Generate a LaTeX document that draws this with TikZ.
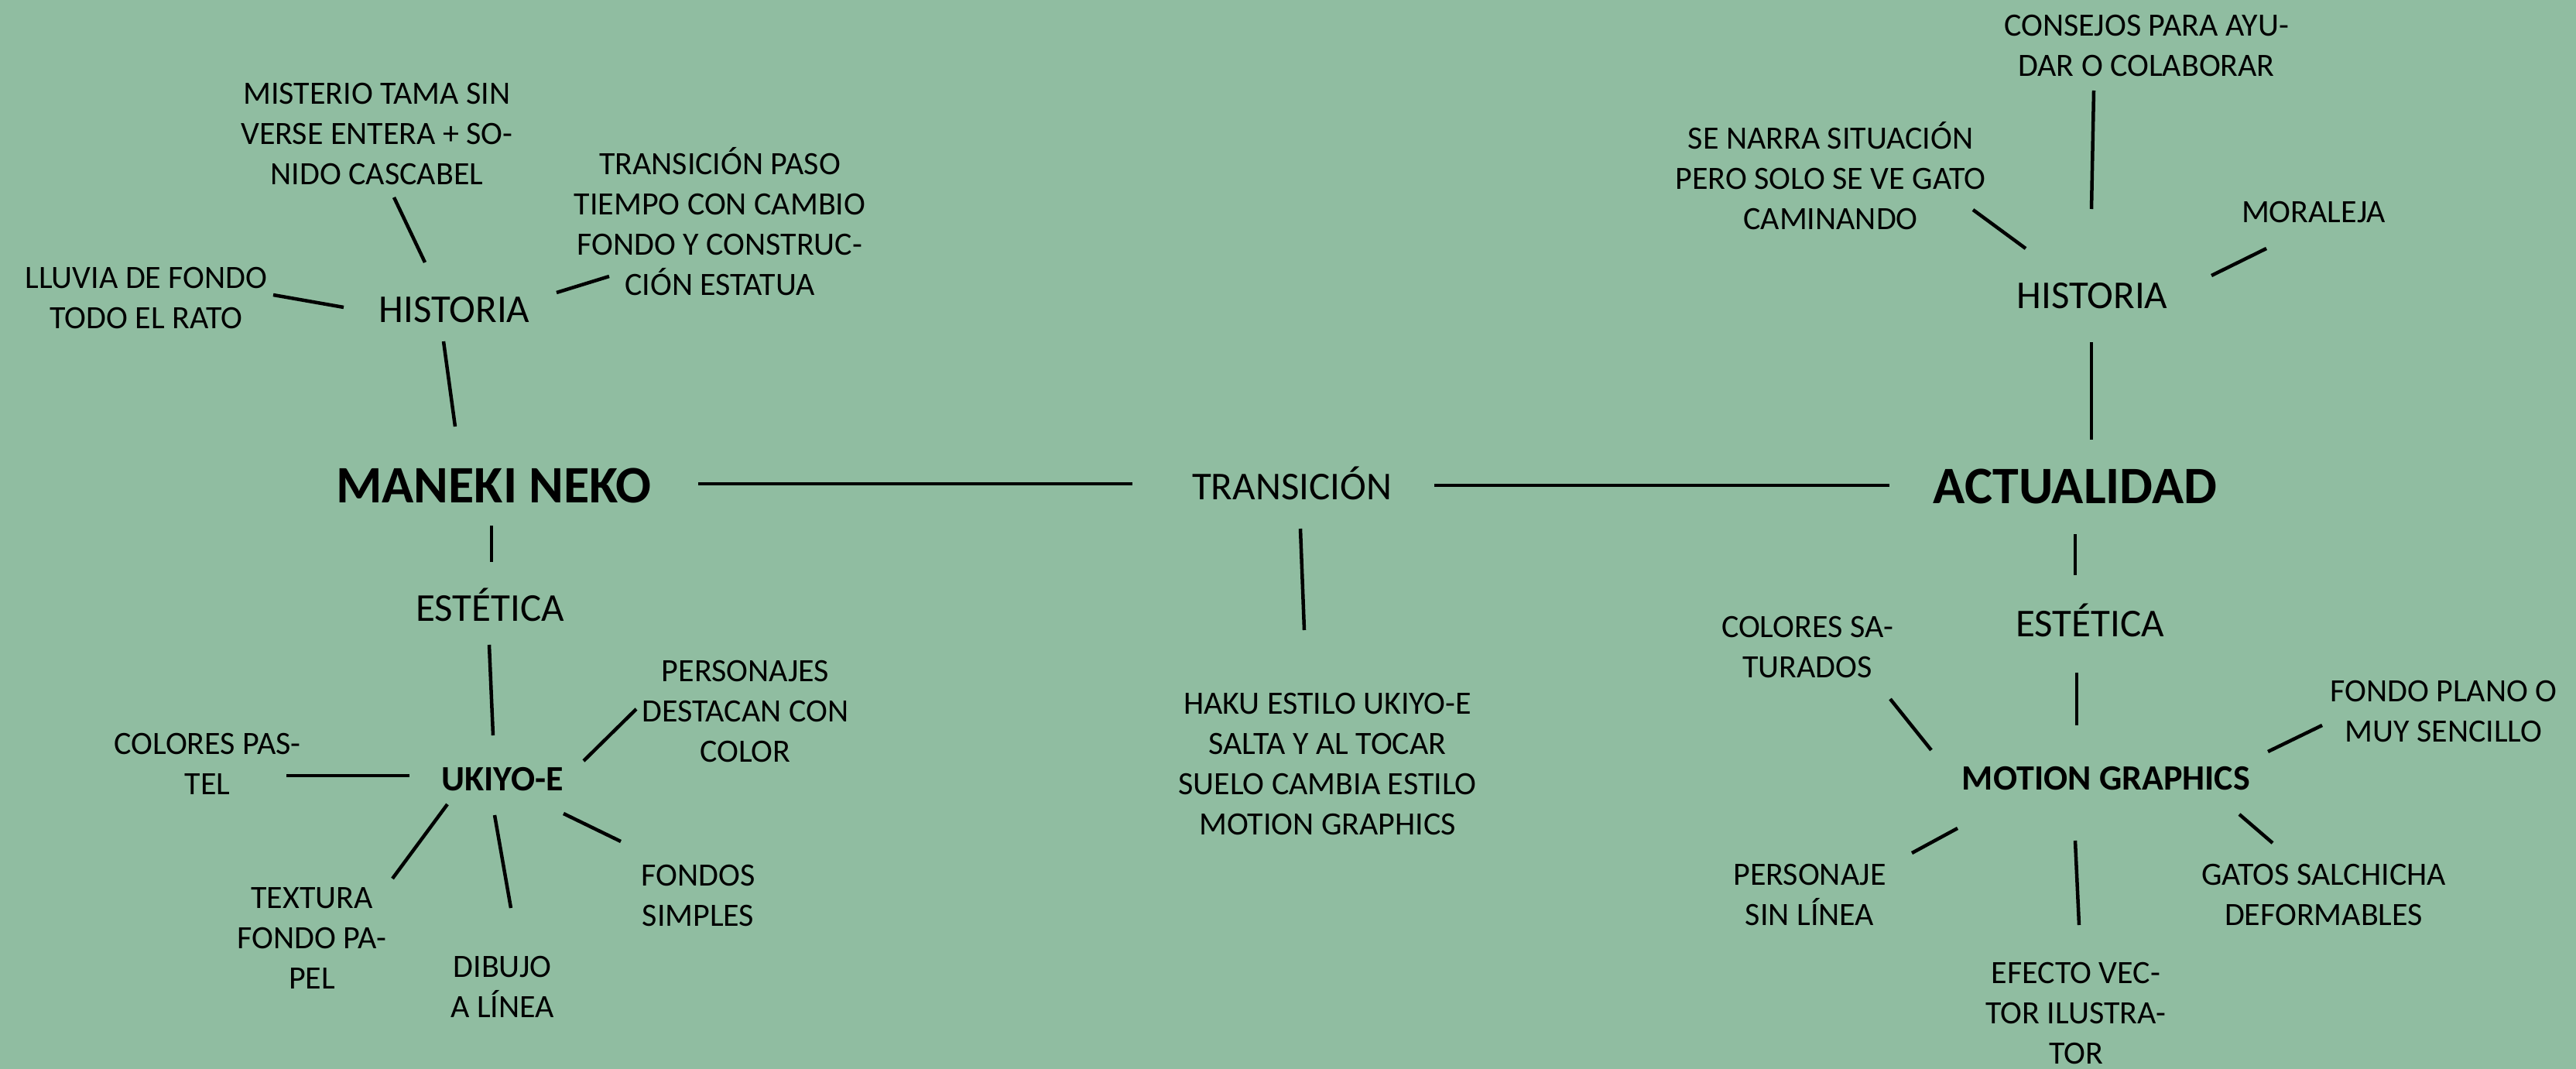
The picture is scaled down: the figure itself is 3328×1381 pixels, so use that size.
\documentclass[tikz,border=0pt]{standalone}
\usepackage{fontspec}
\setmainfont{Carlito}
\definecolor{bgcol}{RGB}{144,189,161}
\tikzset{
  txt/.style={align=center, inner sep=0pt, text=black},
  small/.style={txt, font=\fontsize{42}{52}\selectfont},
  mid/.style={txt, font=\fontsize{51}{62}\selectfont},
  big/.style={txt, font=\bfseries\fontsize{68}{80}\selectfont},
  sub/.style={txt, font=\bfseries\fontsize{46}{56}\selectfont},
  link/.style={line width=4.5pt, draw=black}
}
\begin{document}
\begin{tikzpicture}[x=1pt,y=-1pt]
\fill[bgcol] (0,0) rectangle (3328,1381);
\useasboundingbox (0,0) rectangle (3328,1381);

% main nodes
\node[big] (mk) at (638,627) {MANEKI NEKO};
\node[mid] (tr) at (1669,624) {TRANSICIÓN};
\node[big] (ac) at (2681,628) {ACTUALIDAD};

% left branch
\node[mid] (hl) at (587,400) {HISTORIA};
\node[small] (mi) at (487,173) {MISTERIO TAMA SIN\\VERSE ENTERA + SO-\\NIDO CASCABEL};
\node[small] (tp) at (930,286) {TRANSICIÓN PASO\\TIEMPO CON CAMBIO\\FONDO Y CONSTRUC-\\CIÓN ESTATUA};
\node[small] (ll) at (189,385) {LLUVIA DE FONDO\\TODO EL RATO};
\node[mid] (el) at (633,781) {ESTÉTICA};
\node[sub] (uk) at (649,1007) {UKIYO-E};
\node[small] (cp) at (268,987) {COLORES PAS-\\TEL};
\node[small] (pe) at (963,919) {PERSONAJES\\DESTACAN CON\\COLOR};
\node[small] (fs) at (902,1157) {FONDOS\\SIMPLES};
\node[small] (tx) at (403,1212) {TEXTURA\\FONDO PA-\\PEL};
\node[small] (di) at (649,1275) {DIBUJO\\A LÍNEA};

% middle branch
\node[small] (hk) at (1715,987) {HAKU ESTILO UKIYO-E\\SALTA Y AL TOCAR\\SUELO CAMBIA ESTILO\\MOTION GRAPHICS};

% right branch
\node[mid] (hr) at (2703,382) {HISTORIA};
\node[small] (co) at (2773,59) {CONSEJOS PARA AYU-\\DAR O COLABORAR};
\node[small] (sn) at (2365,227) {SE NARRA SITUACIÓN\\PERO SOLO SE VE GATO\\CAMINANDO};
\node[small] (mo) at (2989,274) {MORALEJA};
\node[mid] (er) at (2700,801) {ESTÉTICA};
\node[sub] (mg) at (2721,1006) {MOTION GRAPHICS};
\node[small] (cs) at (2335,836) {COLORES SA-\\TURADOS};
\node[small] (fp) at (3157,919) {FONDO PLANO O\\MUY SENCILLO};
\node[small] (ps) at (2338,1156) {PERSONAJE\\SIN LÍNEA};
\node[small] (ef) at (2682,1309) {EFECTO VEC-\\TOR ILUSTRA-\\TOR};
\node[small] (gs) at (3002,1156) {GATOS SALCHICHA\\DEFORMABLES};

% connectors
\draw[link] ([shift={(-14,41)}]hl.center) -- ([shift={(-50,-76)}]mk.center);
\draw[link] ([shift={(22,82)}]mi.center) -- ([shift={(-38,-61)}]hl.center);
\draw[link] ([shift={(132,-22)}]hl.center) -- ([shift={(-143,71)}]tp.center);
\draw[link] ([shift={(164,-4)}]ll.center) -- ([shift={(-143,-3)}]hl.center);
\draw[link] ([shift={(264,-2)}]mk.center) -- ([shift={(-206,1)}]tr.center);
\draw[link] ([shift={(184,3)}]tr.center) -- ([shift={(-240,-1)}]ac.center);
\draw[link] ([shift={(11,59)}]tr.center) -- ([shift={(-30,-173)}]hk.center);
\draw[link] ([shift={(-3,52)}]mk.center) -- ([shift={(2,-55)}]el.center);
\draw[link] ([shift={(-1,52)}]el.center) -- ([shift={(-12,-57)}]uk.center);
\draw[link] ([shift={(102,15)}]cp.center) -- ([shift={(-120,-5)}]uk.center);
\draw[link] ([shift={(105,-24)}]uk.center) -- ([shift={(-141,-3)}]pe.center);
\draw[link] ([shift={(79,44)}]uk.center) -- ([shift={(-100,-70)}]fs.center);
\draw[link] ([shift={(-71,32)}]uk.center) -- ([shift={(104,-77)}]tx.center);
\draw[link] ([shift={(-10,46)}]uk.center) -- ([shift={(11,-102)}]di.center);
\draw[link] ([shift={(-68,58)}]co.center) -- ([shift={(-1,-112)}]hr.center);
\draw[link] ([shift={(184,44)}]sn.center) -- ([shift={(-86,-61)}]hr.center);
\draw[link] ([shift={(154,-26)}]hr.center) -- ([shift={(-61,47)}]mo.center);
\draw[link] ([shift={(-1,60)}]hr.center) -- ([shift={(21,-60)}]ac.center);
\draw[link] ([shift={(0,62)}]ac.center) -- ([shift={(-19,-58)}]er.center);
\draw[link] ([shift={(-17,68)}]er.center) -- ([shift={(-38,-69)}]mg.center);
\draw[link] ([shift={(107,67)}]cs.center) -- ([shift={(-226,-37)}]mg.center);
\draw[link] ([shift={(209,-35)}]mg.center) -- ([shift={(-157,18)}]fp.center);
\draw[link] ([shift={(-192,64)}]mg.center) -- ([shift={(132,-54)}]ps.center);
\draw[link] ([shift={(-40,80)}]mg.center) -- ([shift={(4,-114)}]ef.center);
\draw[link] ([shift={(172,46)}]mg.center) -- ([shift={(-66,-67)}]gs.center);
\end{tikzpicture}
\end{document}
